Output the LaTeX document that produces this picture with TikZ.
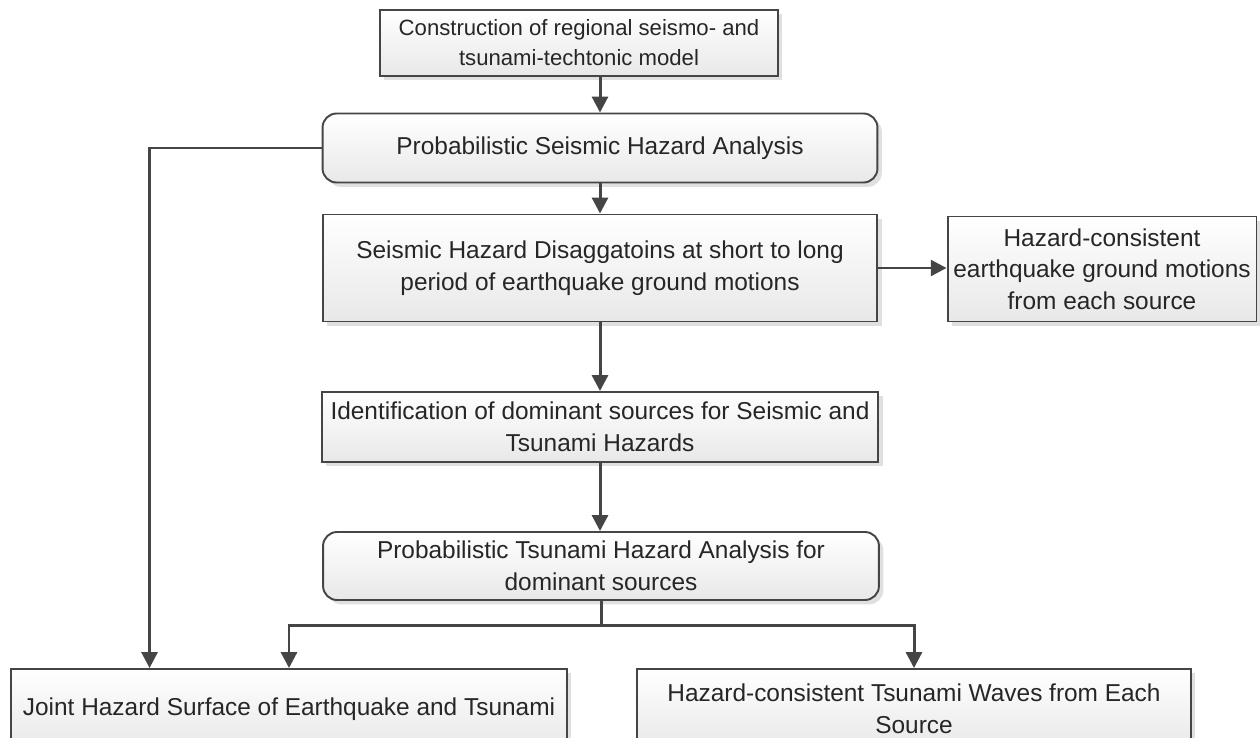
\documentclass[tikz,border=0pt]{standalone}
\usepackage{fontspec}
\setmainfont{Liberation Sans}
\usetikzlibrary{arrows.meta,shadows,calc}
\definecolor{edge}{HTML}{454545}
\tikzset{
  box/.style={draw=edge, line width=1.1pt, top color=white, bottom color=black!9,
    drop shadow={shadow xshift=2.5pt, shadow yshift=-2.5pt, fill=black!12, opacity=1},
    align=center, inner sep=0pt, text=black!85,
    font=\fontsize{13.9}{18}\selectfont},
  rbox/.style={box, rounded corners=8pt},
  line/.style={draw=edge, line width=1.7pt},
  arr/.style={line, -{Triangle[length=9pt,width=9pt]}},
}
\begin{document}
\begin{tikzpicture}[x=0.02cm, y=-0.02cm]
\useasboundingbox (0,0) rectangle (1260,737);
\clip (0,0) rectangle (1260,737);
% Tectonic model
\node[box, minimum width=7.96cm, minimum height=1.32cm,
  font=\fontsize{12.6}{17}\selectfont] (constr) at (579,43)
  {Construction of regional seismo- and\\tsunami-techtonic model};
% PSHA
\node[rbox, minimum width=11.1cm, minimum height=1.38cm] (psha) at (600,148)
  {Probabilistic Seismic Hazard Analysis};
% Disaggregation
\node[box, minimum width=11.1cm, minimum height=2.14cm] (disagg) at (600,268)
  {Seismic Hazard Disaggatoins at short to long\\period of earthquake ground motions};
% Ground motions
\node[box, minimum width=6.18cm, minimum height=2.1cm] (motions) at (1102,269)
  {Hazard-consistent\\earthquake ground motions\\from each source};
% Dominant sources
\node[box, minimum width=11.14cm, minimum height=1.4cm] (ident) at (600,427)
  {Identification of dominant sources for Seismic and\\Tsunami Hazards};
% PTHA
\node[rbox, minimum width=11.12cm, minimum height=1.36cm] (ptha) at (601,566)
  {Probabilistic Tsunami Hazard Analysis for\\dominant sources};
% Joint hazard
\node[box, minimum width=11.12cm, minimum height=1.6cm] (joint) at (289,709)
  {Joint Hazard Surface of Earthquake and Tsunami};
% Tsunami waves
\node[box, minimum width=11.08cm, minimum height=1.6cm] (waves) at (914,709)
  {Hazard-consistent Tsunami Waves from Each\\Source};
% Connectors
\draw[arr] (constr.south -| psha.north) -- (psha.north);
\draw[arr] (psha) -- (disagg);
\draw[arr] (disagg.east) -- (disagg.east -| motions.west);
\draw[arr] (disagg) -- (ident);
\draw[arr] (ident.south) -- (ident.south |- ptha.north);
\draw[arr] (psha.west) -| ($(joint.north west)!0.25!(joint.north east)$);
\coordinate (split) at (601,625);
\draw[line] (ptha.south) -- (split);
\draw[arr] (split) -| (joint.north);
\draw[arr] (split) -| (waves.north);
\end{tikzpicture}
\end{document}
